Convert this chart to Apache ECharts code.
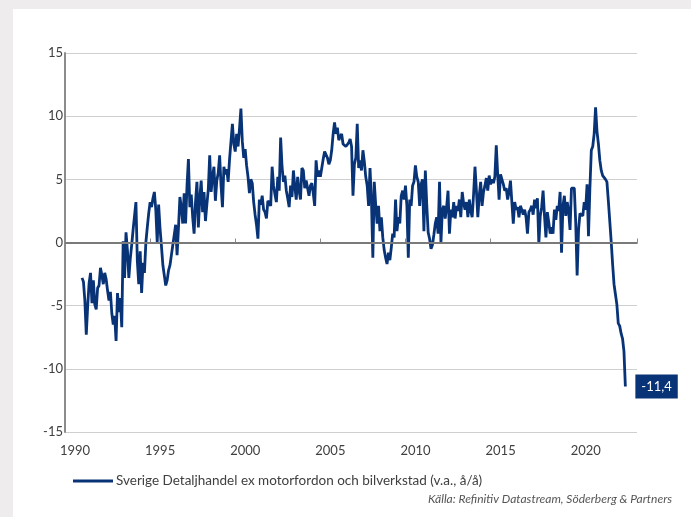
<!DOCTYPE html>
<html lang="sv">
<head>
    <meta charset="UTF-8">
    <script src="https://cdn.jsdelivr.net/npm/echarts@6/dist/echarts.min.js"></script>
    <style>
        html, body { margin: 0; padding: 0; background: #eeecec; }
        #chart { width: 691px; height: 517px; }
    </style>
    <title>Detaljhandel</title>
</head>
<body>
<div id="chart"></div>
<script type="text/javascript">
    // månadsdata, jan 1991 - dec 2022 (v.a., å/å)
    var startYear = 1991;
    var v1991 = [-2.8, -3.1, -4.6, -7.3, -5.0, -3.2, -2.4, -4.8, -3.0, -4.9, -5.3, -3.6];
    var v1992 = [-3.4, -2.0, -2.6, -3.3, -2.4, -2.9, -3.8, -4.6, -3.9, -5.6, -6.5, -5.8];
    var v1993 = [-7.8, -4.0, -5.5, -4.4, -6.7, 0.1, -2.8, 0.8, -0.6, -2.8, -1.3, -0.2];
    var v1994 = [1.0, 2.1, 3.2, -1.5, -3.3, -0.7, -4.0, -1.6, -2.4, 0.0, 1.2, 2.3];
    var v1995 = [3.2, 2.8, 3.5, 4.0, 2.6, 0.0, 3.0, 1.1, -0.3, -1.8, -2.6, -3.4];
    var v1996 = [-3.0, -2.2, -1.8, -1.0, -0.2, 0.6, 1.4, -1.0, 1.2, 3.6, 2.8, 1.5];
    var v1997 = [3.9, 1.5, 4.5, 6.6, 2.8, 3.8, 2.0, 0.7, 3.2, 4.8, 1.2, 3.5];
    var v1998 = [4.9, 2.4, 4.0, 1.7, 3.0, 4.2, 6.9, 4.0, 5.2, 6.0, 3.3, 4.9];
    var v1999 = [5.5, 6.9, 4.5, 2.8, 6.0, 5.4, 5.8, 4.8, 6.6, 8.0, 9.4, 7.8];
    var v2000 = [7.2, 8.6, 7.6, 9.0, 10.6, 8.0, 6.7, 7.4, 6.1, 5.2, 3.9, 5.0];
    var v2001 = [4.7, 3.2, 2.2, 1.4, 0.3, 3.4, 3.0, 3.7, 2.6, 2.4, 1.9, 3.3];
    var v2002 = [3.4, 2.9, 6.0, 4.5, 3.8, 3.2, 5.2, 4.1, 8.3, 6.0, 4.8, 5.3];
    var v2003 = [4.1, 3.5, 2.8, 4.5, 3.6, 5.7, 4.4, 3.4, 5.2, 4.1, 3.4, 5.9];
    var v2004 = [5.7, 4.3, 4.9, 5.0, 3.7, 4.5, 4.7, 3.9, 2.9, 6.5, 5.2, 5.7];
    var v2005 = [5.2, 5.9, 6.6, 7.2, 7.1, 6.7, 6.2, 6.5, 7.3, 8.6, 9.5, 8.6];
    var v2006 = [9.1, 8.1, 8.4, 8.6, 7.8, 7.7, 7.6, 7.5, 7.9, 8.2, 7.6, 3.7];
    var v2007 = [6.2, 6.7, 9.4, 5.9, 6.5, 5.7, 7.3, 6.4, 5.2, 4.5, 2.9, 5.9];
    var v2008 = [3.4, -1.2, 4.8, 3.0, 1.5, 2.9, 0.9, 2.0, 0.4, -0.6, -1.2, -1.7];
    var v2009 = [-0.8, -1.4, -0.4, 0.7, 0.4, 3.4, 0.9, 2.0, 1.5, 3.7, 4.1, 3.4];
    var v2010 = [4.5, 2.9, -1.2, 3.4, 2.9, 4.5, 4.8, 6.1, 5.2, 4.8, 2.9, 4.6];
    var v2011 = [5.0, 0.9, 5.7, 3.0, 0.8, 0.3, -0.5, -0.2, 0.6, 1.5, 2.0, 0.7];
    var v2012 = [4.8, 0.0, 2.6, 2.9, 1.9, 2.8, 4.1, 0.7, 2.6, 2.0, 3.2, 1.9];
    var v2013 = [2.9, 2.5, 3.4, 2.0, 4.0, 3.1, 2.6, 3.2, 2.0, 3.4, 2.5, 2.0];
    var v2014 = [3.8, 6.0, 4.1, 2.0, 3.7, 4.8, 2.9, 4.0, 4.5, 5.1, 4.1, 5.3];
    var v2015 = [4.6, 5.0, 4.7, 5.2, 7.7, 5.4, 3.4, 5.4, 5.0, 4.6, 4.1, 4.3];
    var v2016 = [3.4, 4.0, 4.9, 3.2, 1.5, 3.2, 2.6, 2.8, 2.0, 2.9, 2.6, 2.2];
    var v2017 = [2.6, 2.0, 0.7, 2.4, 2.6, 2.9, 2.2, 3.4, 2.7, 3.5, -0.1, 2.1];
    var v2018 = [2.8, 4.1, 2.1, 0.4, 2.4, 1.6, 0.7, 1.2, 0.7, 2.6, 1.8, 2.9];
    var v2019 = [2.5, 4.0, -0.8, 2.9, 3.7, 2.1, 3.2, 2.5, 1.0, 4.3, 4.4, 4.3];
    var v2020 = [1.6, -2.6, 1.0, 2.3, 2.2, 2.1, 3.2, 2.6, 4.6, 0.5, 4.3, 7.3];
    var v2021 = [7.6, 8.6, 10.7, 8.8, 7.8, 6.5, 5.7, 5.3, 5.2, 5.0, 4.8, 3.3];
    var v2022 = [1.7, 0.1, -1.7, -3.3, -4.1, -4.9, -6.4, -6.6, -7.2, -7.6, -8.6, -11.4];

    var yearTicks = [1990, 1995, 2000, 2005, 2010, 2015, 2020];
    var seriesName = 'Sverige Detaljhandel ex motorfordon och bilverkstad (v.a., å/å)';
    var sourceText = 'Källa: Refinitiv Datastream, Söderberg & Partners';

    var years = [v1991, v1992, v1993, v1994, v1995, v1996, v1997, v1998, v1999, v2000,
        v2001, v2002, v2003, v2004, v2005, v2006, v2007, v2008, v2009, v2010, v2011,
        v2012, v2013, v2014, v2015, v2016, v2017, v2018, v2019, v2020, v2021, v2022];

    var data = [];
    years.forEach(function (arr, yi) {
        arr.forEach(function (v, m) {
            data.push([startYear + yi + m / 12, v]);
        });
    });

    var lineColor = '#083377';
    var txt = '#404040';
    var font = 'Lato';

    var myChart = echarts.init(document.getElementById('chart'));
    var option = {
        backgroundColor: '#eeecec',
        animation: false,
        textStyle: { fontFamily: font },
        graphic: [
            { type: 'rect', left: 13, top: 9, shape: { width: 700, height: 520 }, style: { fill: '#ffffff' }, z: -10 },
            { type: 'text', right: 19, top: 493, style: { text: sourceText, fill: '#555555', fontSize: 12, fontStyle: 'italic', fontFamily: font } }
        ],
        grid: { left: 65, top: 53, right: 54, bottom: 85 },
        legend: {
            left: 68, top: 469,
            itemWidth: 40, itemHeight: 3, itemGap: 10,
            icon: 'rect',
            textStyle: { color: txt, fontSize: 13.5, fontFamily: font, padding: [0, 0, 0, -2] },
            data: [seriesName]
        },
        xAxis: {
            type: 'value',
            min: 1990, max: 2023.6, interval: 5,
            axisLine: { lineStyle: { color: '#8c8c8c', width: 2 } },
            axisTick: { show: true, inside: true, length: 4, lineStyle: { color: '#8c8c8c' } },
            axisLabel: {
                color: txt, fontSize: 13, margin: 12, padding: [0, 0, 0, 20],
                customValues: yearTicks,
                formatter: function (v) { return String(v); }
            },
            splitLine: { show: false }
        },
        yAxis: {
            type: 'value',
            min: -15, max: 15, interval: 5,
            axisLine: { show: true, lineStyle: { color: '#8c8c8c', width: 2 } },
            axisTick: { show: false },
            axisLabel: { color: txt, fontSize: 13, margin: 2 },
            splitLine: { lineStyle: { color: '#cfcfcf', width: 1 } }
        },
        series: [{
            name: seriesName,
            type: 'line',
            data: data,
            showSymbol: false,
            lineStyle: { color: lineColor, width: 2.8 },
            itemStyle: { color: lineColor },
            endLabel: {
                show: true,
                distance: 10,
                formatter: function (p) { return p.value[1].toFixed(1).replace('.', ','); },
                backgroundColor: lineColor,
                color: '#ffffff',
                fontSize: 13,
                fontFamily: font,
                padding: [6, 6, 5, 6]
            },
            markLine: {
                silent: true,
                symbol: 'none',
                label: { show: false },
                lineStyle: { color: '#7a7a7a', width: 2, type: 'solid' },
                data: [{ yAxis: 0 }]
            },
            z: 3
        }]
    };
    option && myChart.setOption(option);
</script>
</body>
</html>
